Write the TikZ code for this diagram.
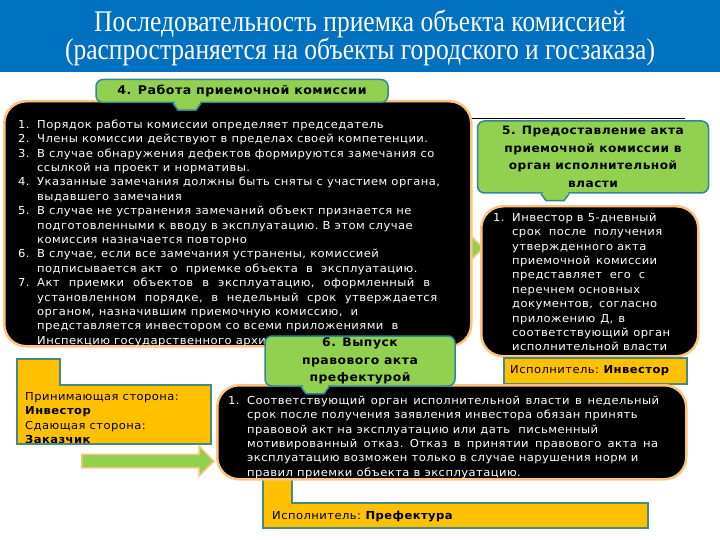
\documentclass[tikz,border=0pt]{standalone}
\usepackage{fontspec}
\setmainfont{Liberation Serif}
\newfontfamily\titlefont[FakeStretch=0.85]{Liberation Serif}
\newfontfamily\bodyfont[FakeStretch=1.05, LetterSpace=4]{DejaVu Sans}
\usetikzlibrary{arrows.meta,positioning,shapes.arrows}

\definecolor{barblue}{RGB}{0,112,192}
\definecolor{taggreen}{RGB}{146,208,80}
\definecolor{tagedge}{RGB}{49,133,155}
\definecolor{boxedge}{RGB}{250,196,125}
\definecolor{amber}{RGB}{255,192,0}
\definecolor{ambedge}{RGB}{70,140,125}

\newcommand\tagtab[2]{%
  \draw[tagedge, line width=1.5pt, fill=taggreen] ([xshift=#2-14pt]#1.south) -- ++(5,7) -- ++(18,0) -- ++(5,-7);
  \fill[taggreen] ([xshift=#2-12.5pt, yshift=1.8pt]#1.south) rectangle ([xshift=#2+12.5pt, yshift=-1pt]#1.south);}

\begin{document}
\begin{tikzpicture}[x=1pt, y=-1pt, font=\bodyfont\frenchspacing\fontsize{11}{14.4}\selectfont,
   blk/.style={draw=boxedge, line width=2.5pt, fill=black, rounded corners=22pt, anchor=north west, inner sep=0pt},
   txt/.style={text=white, align=left, anchor=north west, inner sep=0pt},
   tag/.style={draw=tagedge, line width=1.5pt, fill=taggreen, rounded corners=7pt, align=center, inner sep=0pt},
   yel/.style={draw=ambedge, line width=1.5pt, fill=amber},
   fat/.style={single arrow, draw=boxedge, line width=1.5pt, fill=taggreen, anchor=tip, single arrow head extend=6pt}]
  \useasboundingbox (0,0) rectangle (720,540);
  \fill[barblue] (0,0) rectangle (720,72);
  \node[text=white, align=center, font=\titlefont\fontsize{30}{28}\selectfont] (title) at (360,38)
    {Последовательность приемка объекта комиссией\\(распространяется на объекты городского и госзаказа)};
  \coordinate (ruleA) at (300,118); \coordinate (ruleB) at (685,118);
  \draw[line width=0.8pt] (ruleA) -- (ruleB);

  \draw[yel] (263,478) -- (292,478) -- (292,503) -- (648,503) -- (648,528) -- (263,528) -- cycle;
  \node[anchor=west, inner sep=0pt] (pref) at (272,517) {Исполнитель: \textbf{Префектура}};
  \node[fat, minimum height=46pt, inner sep=5pt] (ar1) at (484,248) {};

  \node[blk, minimum width=467pt, minimum height=245pt] (b4) at (3,100) {};
  \node[txt] (b4t) at (18,118) {\begin{tabular}{@{}p{19pt}@{}l@{}}
   1. & Порядок работы комиссии определяет председатель\\
   2. & Члены комиссии действуют в пределах своей компетенции.\\
   3. & В случае обнаружения дефектов формируются замечания со\\
      & ссылкой на проект и нормативы.\\
   4. & Указанные замечания должны быть сняты с участием органа,\\
      & выдавшего замечания\\
   5. & В случае не устранения замечаний объект признается не\\
      & подготовленными к вводу в эксплуатацию. В этом случае\\
      & комиссия назначается повторно\\
   6. & В случае, если все замечания устранены, комиссией\\
      & подписывается акт\ \ о\ \ приемке объекта\ \ в\ \ эксплуатацию.\\
   7. & \makebox[393pt][s]{Акт приемки объектов в эксплуатацию, оформленный в}\\
      & \makebox[400pt][s]{установленном порядке, в недельный срок утверждается}\\
      & органом, назначившим приемочную комиссию,\ \ и\\
      & представляется инвестором со всеми приложениями\ \ в\\
      & Инспекцию государственного архитектурного надзора
  \end{tabular}};
  \node[tag, minimum width=292pt, minimum height=23pt, font=\bodyfont\bfseries\fontsize{12}{17}\selectfont] (t4) at (242,91)
    {4. Работа приемочной комиссии};
  \tagtab{t4}{-55pt}

  \node[tag, minimum width=231pt, minimum height=72pt, font=\bodyfont\bfseries\fontsize{11.6}{17.7}\selectfont] (t5) at (593,157)
    {5. Предоставление акта\\приемочной комиссии в\\орган исполнительной\\власти};
  \tagtab{t5}{-38pt}

  \node[blk, minimum width=217pt, minimum height=150pt] (rb) at (480,205) {};
  \node[txt] (rbt) at (493,211) {\begin{tabular}{@{}p{19pt}@{}l@{}}
   1. & Инвестор в 5-дневный\\
      & \makebox[150pt][s]{срок после получения}\\
      & утвержденного акта\\
      & \makebox[145pt][s]{приемочной комиссии}\\
      & \makebox[133pt][s]{представляет его с}\\
      & перечнем основных\\
      & \makebox[145pt][s]{документов, согласно}\\
      & \makebox[113pt][s]{приложению Д, в}\\
      & \makebox[158pt][s]{соответствующий орган}\\
      & исполнительной власти
  \end{tabular}};
  \node[yel, minimum width=183pt, minimum height=26pt, anchor=north west, inner sep=0pt] (inv) at (503,357) {};
  \node[anchor=west, inner sep=0pt] (invt) at ([xshift=7pt]inv.west) {Исполнитель: \textbf{Инвестор}};

  \begin{scope}
    \clip (17,359) -- (60,359) -- (60,385) -- (211,385) -- (211,444) -- (17,444) -- cycle;
    \fill[amber] (17,359) rectangle (211,444);
    \node[align=left, anchor=north west, inner sep=0pt] (sides) at (25,392)
      {Принимающая сторона:\\\textbf{Инвестор}\\Сдающая сторона:\\\textbf{Заказчик}};
  \end{scope}
  \draw[ambedge, line width=1.5pt] (17,359) -- (60,359) -- (60,385) -- (211,385) -- (211,444) -- (17,444) -- cycle;
  \node[fat, minimum height=132pt, inner sep=6pt, single arrow head extend=8pt] (ar2) at (215,461) {};

  \node[blk, minimum width=469pt, minimum height=94pt] (bb) at (216,384) {};
  \node[txt] (bbt) at (228,394) {\begin{tabular}{@{}p{19pt}@{}l@{}}
   1. & \makebox[412pt][s]{Соответствующий орган исполнительной власти в недельный}\\
      & срок после получения заявления инвестора обязан принять\\
      & правовой акт на эксплуатацию или дать\ \ письменный\\
      & \makebox[411pt][s]{мотивированный отказ. Отказ в принятии правового акта на}\\
      & эксплуатацию возможен только в случае нарушения норм и\\
      & правил приемки объекта в эксплуатацию.
  \end{tabular}};

  \node[tag, minimum width=190pt, minimum height=50pt, font=\bodyfont\bfseries\fontsize{11.8}{17.5}\selectfont] (t6) at (360,361)
    {6. Выпуск\\правового акта\\префектурой};
  \tagtab{t6}{-45pt}
\end{tikzpicture}
\end{document}
